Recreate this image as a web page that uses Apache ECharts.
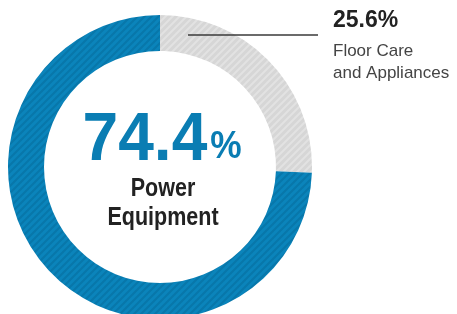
<!DOCTYPE html>
<html>
<head>
<meta charset="utf-8">
<script src="https://cdn.jsdelivr.net/npm/echarts@6/dist/echarts.min.js"></script>
<style>
  html, body { margin: 0; padding: 0; background: #fff; }
  #chart { width: 457px; height: 314px; }
</style>
</head>
<body>
<div id="chart"></div>
<script>
var names = ['Floor Care and Appliances', 'Power Equipment'];
var values = [25.6, 74.4];

// striped fills
function stripes(base, line) {
    var n = 7;
    var c = document.createElement('canvas');
    c.width = n; c.height = n;
    var ctx = c.getContext('2d');
    ctx.fillStyle = base;
    ctx.fillRect(0, 0, n, n);
    ctx.strokeStyle = line;
    ctx.lineWidth = 2;
    ctx.beginPath();
    for (var k = -n; k <= n; k += n) {
        ctx.moveTo(k - 1, n + 1);
        ctx.lineTo(k + n + 1, -1);
    }
    ctx.stroke();
    return { image: c, repeat: 'repeat' };
}

var chart = echarts.init(document.getElementById('chart'));
var sans = '"Liberation Sans", Arial, sans-serif';

var option = {
    animation: false,
    series: [{
        type: 'pie',
        center: [160, 167],
        radius: [116, 152],
        startAngle: 90,
        clockwise: true,
        silent: true,
        z: 1,
        label: { show: false },
        labelLine: { show: false },
        data: [
            { value: values[0], name: names[0], itemStyle: { color: stripes('#d6d6d6', '#e2e2e2') } },
            { value: values[1], name: names[1], itemStyle: { color: stripes('#0b84bb', '#0877aa') } }
        ]
    }],
    graphic: [
        {
            type: 'line', z: 100,
            shape: { x1: 188, y1: 35, x2: 318, y2: 35 },
            style: { stroke: '#3a3a3a', lineWidth: 1.5 }
        },
        {
            type: 'text', left: 333, top: 9, z: 100,
            style: { text: values[0].toFixed(1) + '%', font: 'bold 23px ' + sans, fill: '#222' }
        },
        {
            type: 'text', left: 333, top: 40, z: 100,
            style: { text: 'Floor Care\nand Appliances', font: '17px ' + sans, fill: '#444', lineHeight: 22 }
        },
        {
            type: 'text', x: 162, y: 141, z: 100, scaleX: 0.93,
            style: {
                text: '{a|' + values[1].toFixed(1) + '}{b|%}',
                align: 'center', verticalAlign: 'middle',
                rich: {
                    a: { font: 'bold 69px ' + sans, fill: '#0a7db3' },
                    b: { font: 'bold 38px ' + sans, fill: '#0a7db3', padding: [14, 0, 0, 3] }
                }
            }
        },
        {
            type: 'text', x: 163, y: 204, z: 100, scaleX: 0.86,
            style: {
                text: 'Power\nEquipment', align: 'center', verticalAlign: 'middle',
                font: 'bold 25px ' + sans, fill: '#222', lineHeight: 29
            }
        }
    ]
};
chart.setOption(option);
</script>
</body>
</html>
